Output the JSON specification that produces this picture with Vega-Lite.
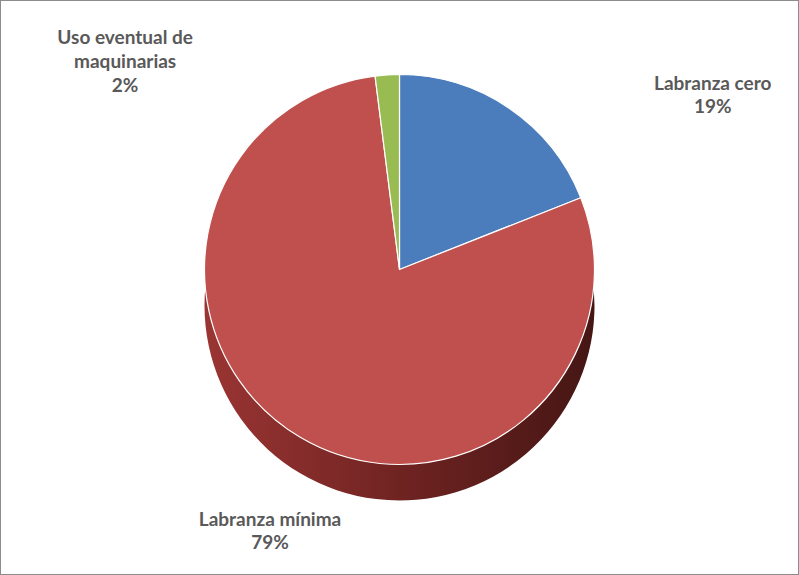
{
  "$schema": "https://vega.github.io/schema/vega-lite/v6.json",
  "width": 799,
  "height": 575,
  "padding": 0,
  "autosize": {"type": "fit", "contains": "padding"},
  "background": "white",
  "view": {"stroke": "#8c8c8c", "strokeWidth": 2, "fill": "white"},
  "data": {
    "values": [
      {"orden": 1, "tipo": "Labranza cero", "valor": 19},
      {"orden": 2, "tipo": "Labranza mínima", "valor": 79},
      {"orden": 3, "tipo": "Uso eventual de\nmaquinarias", "valor": 2}
    ]
  },
  "transform": [
    {"stack": "valor", "groupby": [], "sort": [{"field": "orden"}], "as": ["t0", "t1"]},
    {"calculate": "(datum.t0 + datum.t1) / 2", "as": "tmid"},
    {"calculate": "datum.tipo + '\\n' + datum.valor + '%'", "as": "etiqueta"}
  ],
  "layer": [
    {
      "mark": {
        "type": "arc",
        "outerRadius": 195,
        "yOffset": 18,
        "fill": {
          "x1": 0, "y1": 0, "x2": 1, "y2": 0,
          "gradient": "linear",
          "stops": [
            {"offset": 0, "color": "#9a3533"},
            {"offset": 0.55, "color": "#6b2220"},
            {"offset": 1, "color": "#451614"}
          ]
        }
      },
      "encoding": {
        "theta": {"field": "t0", "type": "quantitative", "scale": {"domain": [0, 100]}},
        "theta2": {"field": "t1"}
      }
    },
    {
      "mark": {"type": "arc", "outerRadius": 195, "yOffset": -18, "stroke": "white", "strokeWidth": 1.2},
      "encoding": {
        "theta": {"field": "t0", "type": "quantitative", "scale": {"domain": [0, 100]}},
        "theta2": {"field": "t1"},
        "color": {
          "field": "orden",
          "type": "nominal",
          "scale": {"domain": [1, 2, 3], "range": ["#4b7dbd", "#c0504d", "#98bb52"]},
          "legend": null
        }
      }
    },
    {
      "transform": [{"filter": "datum.orden == 1"}],
      "mark": {"type": "text", "font": "Lato", "fontWeight": "bold", "fontSize": 19, "color": "#595959", "lineBreak": "\n", "align": "center", "baseline": "middle", "yOffset": -18, "thetaOffset": 0.4395, "lineHeight": 23},
      "encoding": {
        "theta": {"field": "tmid", "type": "quantitative", "scale": {"domain": [0, 100]}},
        "radius": {"value": 364},
        "text": {"field": "etiqueta"}
      }
    },
    {
      "transform": [{"filter": "datum.orden == 2"}],
      "mark": {"type": "text", "font": "Lato", "fontWeight": "bold", "fontSize": 19, "color": "#595959", "lineBreak": "\n", "align": "center", "baseline": "middle", "yOffset": -18, "thetaOffset": -0.057, "lineHeight": 23},
      "encoding": {
        "theta": {"field": "tmid", "type": "quantitative", "scale": {"domain": [0, 100]}},
        "radius": {"value": 282},
        "text": {"field": "etiqueta"}
      }
    },
    {
      "transform": [{"filter": "datum.orden == 3"}],
      "mark": {"type": "text", "font": "Lato", "fontWeight": "bold", "fontSize": 19, "color": "#595959", "lineBreak": "\n", "align": "center", "baseline": "middle", "yOffset": -18, "thetaOffset": -0.807, "lineHeight": 24},
      "encoding": {
        "theta": {"field": "tmid", "type": "quantitative", "scale": {"domain": [0, 100]}},
        "radius": {"value": 359},
        "text": {"field": "etiqueta"}
      }
    }
  ]
}
